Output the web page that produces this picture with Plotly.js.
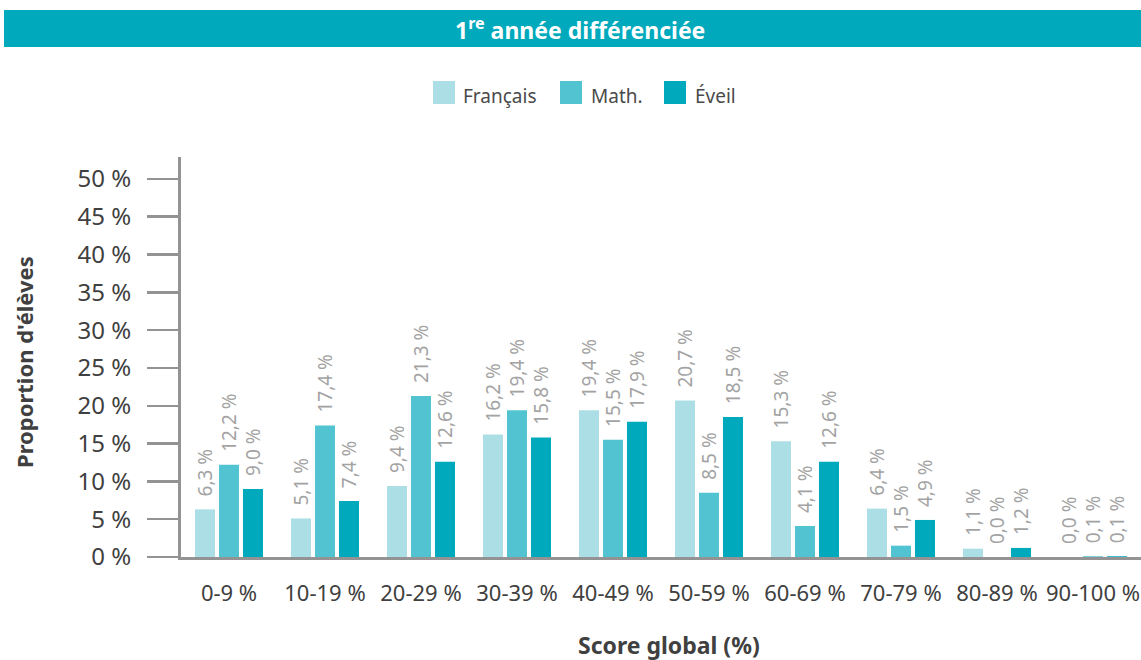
<!DOCTYPE html>
<html>
<head>
<meta charset="utf-8">
<script src="https://cdn.plot.ly/plotly-3.0.1.min.js"></script>
<style>html,body{margin:0;padding:0;background:#fff;}#chart{width:1141px;height:660px;}</style>
</head>
<body>
<div id="chart"></div>
<script>
const categories = ['0-9 %', '10-19 %', '20-29 %', '30-39 %', '40-49 %', '50-59 %', '60-69 %', '70-79 %', '80-89 %', '90-100 %'];
const seriesNames = ['Français', 'Math.', 'Éveil'];
const francais = [6.3, 5.1, 9.4, 16.2, 19.4, 20.7, 15.3, 6.4, 1.1, 0.0];
const math = [12.2, 17.4, 21.3, 19.4, 15.5, 8.5, 4.1, 1.5, 0.0, 0.1];
const eveil = [9.0, 7.4, 12.6, 15.8, 17.9, 18.5, 12.6, 4.9, 1.2, 0.1];
const yTickValues = [0, 5, 10, 15, 20, 25, 30, 35, 40, 45, 50];
const yTickLabels = ['0 %', '5 %', '10 %', '15 %', '20 %', '25 %', '30 %', '35 %', '40 %', '45 %', '50 %'];
const colors = ['#acdfe5', '#52c3d0', '#00a9bc'];
const titleText = '1<sup>re</sup> année différenciée';
const xTitle = 'Score global (%)';
const yTitle = "Proportion d'élèves";

const FONT = 'Noto Sans, sans-serif';
const values = [francais, math, eveil];

// plot area in pixels: x 181..1141, y 157..557
const L = 181, R = 1141, T = 157, B = 557;
const px = v => (v - L) / (R - L);
const py = v => (B - v) / (B - T);

const traces = values.map((vals, i) => ({
  type: 'bar',
  name: seriesNames[i],
  x: categories,
  y: vals,
  marker: {color: colors[i], line: {width: 0}},
  texttemplate: '\u00a0\u00a0%{y:.1f} %',
  textposition: 'outside',
  textangle: -90,
  constraintext: 'none',
  cliponaxis: false,
  textfont: {family: FONT, size: 19, color: '#a3a3a3'},
  showlegend: false,
  hoverinfo: 'x+y+name'
}));

const legendSquares = [[433, 455], [560, 582], [664, 686]];
const legendTextX = [461, 589, 693];
const shapes = [
  {type: 'rect', xref: 'paper', yref: 'paper', x0: px(4), x1: px(1141), y0: py(47), y1: py(10),
   fillcolor: '#00a9bc', line: {width: 0}, layer: 'below'}
];
const annotations = [
  {xref: 'paper', yref: 'paper', x: px(580), y: py(29), text: '<b>' + titleText + '</b>', showarrow: false,
   xanchor: 'center', yanchor: 'middle', font: {family: FONT, size: 23, color: '#ffffff'}},
  {xref: 'paper', yref: 'paper', x: px(669), y: py(645), text: '<b>' + xTitle + '</b>', showarrow: false,
   xanchor: 'center', yanchor: 'middle', font: {family: FONT, size: 23, color: '#404040'}},
  {xref: 'paper', yref: 'paper', x: px(24), y: py(362), text: '<b>' + yTitle + '</b>', showarrow: false, textangle: -90,
   xanchor: 'center', yanchor: 'middle', font: {family: FONT, size: 22, color: '#404040'}}
];
seriesNames.forEach((n, i) => {
  shapes.push({type: 'rect', xref: 'paper', yref: 'paper', x0: px(legendSquares[i][0]), x1: px(legendSquares[i][1]),
    y0: py(104), y1: py(81), fillcolor: colors[i], line: {width: 0}});
  annotations.push({xref: 'paper', yref: 'paper', x: px(legendTextX[i]), y: py(96), text: n, showarrow: false,
    xanchor: 'left', yanchor: 'middle', font: {family: FONT, size: 19, color: '#4a4a4a'}});
});

const layout = {
  width: 1141, height: 660,
  margin: {l: L, r: 1141 - R, t: T, b: 660 - B, pad: 0},
  paper_bgcolor: '#ffffff', plot_bgcolor: '#ffffff',
  separators: ', ',
  barmode: 'group',
  bargap: 0.25,
  bargroupgap: 0.167,
  showlegend: false,
  font: {family: FONT, color: '#404040'},
  xaxis: {
    type: 'category',
    showline: true, linecolor: '#939393', linewidth: 3,
    ticks: '', showgrid: false, zeroline: false,
    tickfont: {family: FONT, size: 22, color: '#404040'},
    ticklabelstandoff: 15,
    fixedrange: true
  },
  yaxis: {
    range: [0, 52.9],
    tickmode: 'array',
    tickvals: yTickValues,
    ticktext: yTickLabels,
    showline: true, linecolor: '#939393', linewidth: 3,
    ticks: 'outside', ticklen: 31, tickwidth: 2.5, tickcolor: '#939393',
    showgrid: false, zeroline: false,
    tickfont: {family: FONT, size: 24, color: '#404040'},
    ticklabelstandoff: 11,
    fixedrange: true
  },
  shapes: shapes,
  annotations: annotations
};

Plotly.newPlot('chart', traces, layout, {displayModeBar: false, staticPlot: true});
</script>
</body>
</html>
